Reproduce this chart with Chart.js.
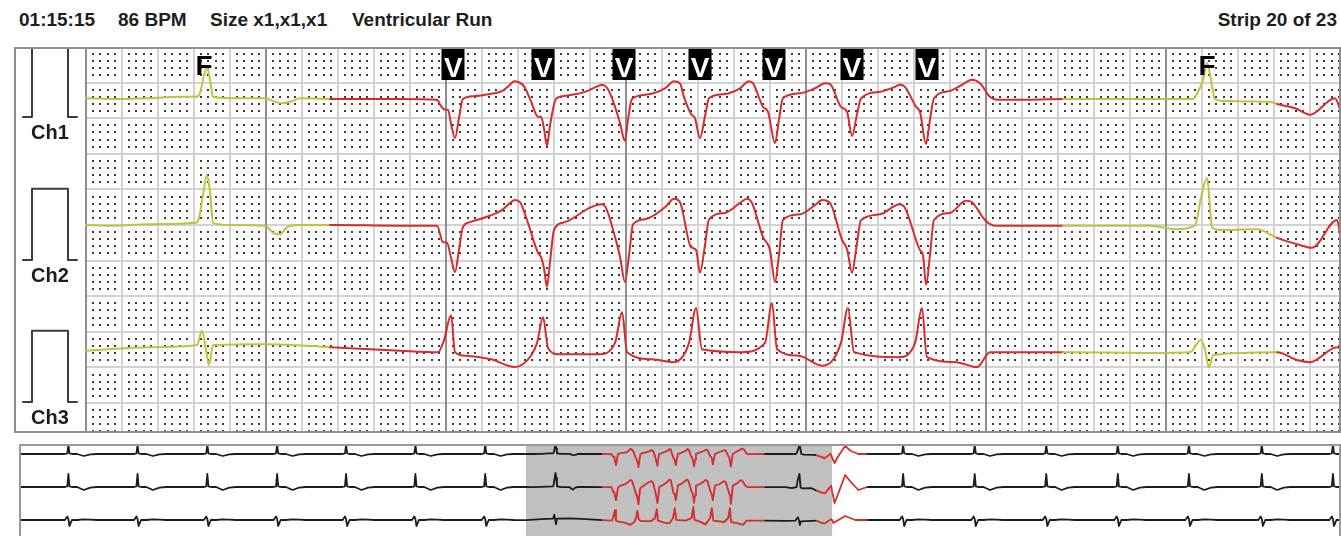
<!DOCTYPE html>
<html>
<head>
<meta charset="utf-8">
<script src="https://cdn.jsdelivr.net/npm/chart.js@4.4.1/dist/chart.umd.min.js"></script>
<style>
body { margin: 0; background: #fff; width: 1341px; height: 536px; overflow: hidden; position: relative; font-family: "Liberation Sans", Arial, sans-serif; }
.hdr { position: absolute; top: 10px; font-weight: bold; font-size: 19px; line-height: 19px; color: #1e1e1e; white-space: nowrap; }
#main { position: absolute; left: 14px; top: 47px; }
#overview { position: absolute; left: 19px; top: 444px; }
</style>
</head>
<body>
<div class="hdr" style="left:19px">01:15:15</div>
<div class="hdr" style="left:118px">86 BPM</div>
<div class="hdr" style="left:210px">Size x1,x1,x1</div>
<div class="hdr" style="left:352px">Ventricular Run</div>
<div class="hdr" style="right:4px">Strip 20 of 23</div>
<canvas id="main" width="1327" height="386"></canvas>
<canvas id="overview" width="1322" height="92"></canvas>
<script>
// strip data: [seconds from strip start, mV]
const channelNames = ['Ch1', 'Ch2', 'Ch3'];

const ch1Trace = [
    [0.000, 0.01], [0.189, 0.00], [0.356, 0.01], [0.522, 0.03], [0.611, 0.03], [0.633, 0.08], [0.656, 0.34], [0.672, 0.44],
    [0.689, 0.27], [0.706, 0.03], [0.800, 0.01], [0.994, 0.01], [1.050, -0.04], [1.094, -0.06], [1.144, -0.03], [1.189, 0.01],
    [1.356, 0.00], [1.744, 0.00], [1.950, -0.01], [1.972, -0.10], [1.994, -0.15], [2.011, -0.15], [2.028, -0.35], [2.050, -0.55],
    [2.072, -0.27], [2.094, 0.00], [2.156, 0.04], [2.244, 0.07], [2.311, 0.11], [2.356, 0.20], [2.378, 0.25], [2.400, 0.24],
    [2.433, 0.18], [2.472, -0.03], [2.511, -0.25], [2.528, -0.25], [2.544, -0.41], [2.561, -0.66], [2.578, -0.37], [2.611, 0.00],
    [2.650, 0.04], [2.772, 0.10], [2.844, 0.18], [2.867, 0.20], [2.906, 0.11], [2.944, -0.15], [2.967, -0.34], [2.994, -0.59],
    [3.011, -0.29], [3.033, 0.00], [3.106, 0.06], [3.217, 0.15], [3.267, 0.25], [3.300, 0.22], [3.322, 0.03], [3.361, -0.21],
    [3.383, -0.27], [3.411, -0.55], [3.439, -0.24], [3.461, 0.01], [3.550, 0.07], [3.633, 0.15], [3.683, 0.25], [3.706, 0.22],
    [3.761, -0.11], [3.789, -0.18], [3.828, -0.62], [3.850, -0.29], [3.872, 0.01], [3.967, 0.08], [4.050, 0.15], [4.106, 0.22],
    [4.133, 0.21], [4.194, -0.11], [4.228, -0.18], [4.256, -0.52], [4.283, -0.22], [4.306, 0.01], [4.411, 0.10], [4.494, 0.17],
    [4.522, 0.20], [4.550, 0.17], [4.611, -0.11], [4.633, -0.18], [4.667, -0.63], [4.689, -0.29], [4.711, 0.01], [4.794, 0.11],
    [4.867, 0.20], [4.922, 0.27], [4.967, 0.22], [5.022, 0.03], [5.061, -0.01], [5.244, -0.01], [5.428, 0.00], [5.911, 0.00],
    [6.150, 0.00], [6.178, 0.10], [6.206, 0.27], [6.228, 0.51], [6.250, 0.27], [6.272, 0.00], [6.328, -0.03], [6.578, -0.04],
    [6.617, -0.07], [6.717, -0.13], [6.800, -0.22], [6.939, 0.01], [6.972, -0.18], [7.03, -0.45], [7.10, -0.15], [7.27, 0.40],
    [7.40, 0.15], [7.57, 0.00], [7.77, 0.00], [7.80, 0.00]
];

const ch2Trace = [
    [0.000, 0.00], [0.133, -0.01], [0.356, 0.01], [0.611, 0.03], [0.628, 0.10], [0.650, 0.42], [0.672, 0.70], [0.689, 0.46],
    [0.706, 0.03], [0.800, 0.00], [0.994, -0.01], [1.039, -0.11], [1.078, -0.13], [1.117, -0.03], [1.189, 0.00], [1.356, 0.00],
    [1.744, -0.01], [1.950, -0.01], [1.983, -0.24], [2.006, -0.25], [2.028, -0.46], [2.050, -0.66], [2.072, -0.35], [2.094, -0.03],
    [2.133, 0.04], [2.244, 0.13], [2.311, 0.21], [2.356, 0.31], [2.383, 0.35], [2.411, 0.32], [2.450, 0.07], [2.511, -0.39],
    [2.528, -0.45], [2.544, -0.60], [2.561, -0.87], [2.578, -0.52], [2.600, -0.07], [2.661, 0.04], [2.806, 0.25], [2.867, 0.29],
    [2.894, 0.21], [2.939, -0.17], [2.967, -0.45], [2.994, -0.80], [3.017, -0.42], [3.039, 0.01], [3.106, 0.08], [3.217, 0.25],
    [3.267, 0.37], [3.300, 0.32], [3.361, -0.31], [3.389, -0.35], [3.411, -0.67], [3.439, -0.28], [3.461, 0.08], [3.550, 0.17],
    [3.633, 0.31], [3.672, 0.37], [3.700, 0.31], [3.761, -0.17], [3.800, -0.35], [3.828, -0.80], [3.850, -0.42], [3.872, 0.07],
    [3.967, 0.15], [4.050, 0.28], [4.089, 0.35], [4.133, 0.31], [4.200, -0.21], [4.228, -0.34], [4.256, -0.67], [4.278, -0.35],
    [4.306, 0.07], [4.411, 0.15], [4.494, 0.27], [4.517, 0.29], [4.550, 0.24], [4.633, -0.35], [4.650, -0.42], [4.667, -0.84],
    [4.689, -0.42], [4.711, 0.07], [4.800, 0.17], [4.889, 0.34], [4.922, 0.32], [4.994, 0.07], [5.050, -0.01], [5.428, -0.01],
    [5.911, -0.01], [6.056, -0.06], [6.161, -0.01], [6.194, 0.38], [6.228, 0.66], [6.256, -0.03], [6.300, -0.07], [6.506, -0.06],
    [6.617, -0.18], [6.744, -0.28], [6.811, -0.32], [6.950, 0.07], [6.972, -0.21], [7.03, -0.80], [7.10, -0.40], [7.27, 0.60],
    [7.40, 0.25], [7.57, -0.15], [7.77, 0.00], [7.80, 0.00]
];

const ch3Trace = [
    [0.000, -0.01], [0.356, 0.04], [0.617, 0.07], [0.644, 0.27], [0.667, 0.00], [0.683, -0.21], [0.706, 0.07], [1.006, 0.08],
    [1.356, 0.04], [1.744, -0.01], [1.956, -0.03], [1.989, 0.14], [2.028, 0.49], [2.050, -0.03], [2.111, -0.08], [2.250, -0.13],
    [2.383, -0.24], [2.472, -0.08], [2.506, 0.10], [2.539, 0.46], [2.567, 0.03], [2.628, -0.06], [2.850, -0.06], [2.939, 0.10],
    [2.978, 0.53], [3.006, -0.03], [3.144, -0.13], [3.267, -0.17], [3.350, 0.10], [3.389, 0.59], [3.422, 0.01], [3.639, -0.03],
    [3.772, 0.10], [3.811, 0.66], [3.839, 0.01], [3.961, -0.08], [4.089, -0.22], [4.194, 0.10], [4.233, 0.59], [4.267, -0.03],
    [4.517, -0.10], [4.606, 0.10], [4.644, 0.59], [4.672, -0.10], [4.833, -0.17], [4.950, -0.24], [5.022, -0.03], [5.428, -0.03],
    [5.911, -0.04], [6.133, -0.03], [6.194, 0.14], [6.217, 0.00], [6.239, -0.25], [6.261, -0.07], [6.617, -0.03], [6.728, -0.14],
    [6.800, -0.17], [6.950, 0.04], [6.972, 0.00], [7.00, -0.15], [7.27, 0.20], [7.50, 0.00], [7.77, 0.00], [7.80, 0.00]
];

const channelTraces = [ch1Trace, ch2Trace, ch3Trace];

// beat annotations
const beatLabels = ['F', 'V', 'V', 'V', 'V', 'V', 'V', 'V', 'F'];
const beatLabelTimes = [0.656, 2.041, 2.541, 2.989, 3.411, 3.822, 4.256, 4.672, 6.228];

// ventricular run (red) spans, seconds from strip start
const redRanges = [[1.356, 5.428], [6.617, 7.77]];

// 1 mV calibration pulse
const calTimes = [-0.35, -0.30, -0.30, -0.10, -0.10, -0.05];
const calMv = [0, 0, 1, 1, 0, 0];

// overview (30 s) : strip position and the normal beats around it
const stripStartInOverview = 11.549;
const overviewBeatTimes = [1.125, 2.70, 4.29, 5.88, 7.45, 9.03, 10.62, 20.14, 21.77, 23.40, 25.03, 26.65, 28.31, 29.93];
const normalBeatOffsets = [-0.08, -0.025, 0, 0.025, 0.08, 0.2, 0.35, 0.5, 0.65];
const normalBeatCh1 = [0, 0.03, 0.45, 0.03, 0, 0, -0.10, -0.02, 0];
const normalBeatCh2 = [0, 0.03, 0.65, 0.03, 0, 0, -0.15, -0.03, 0];
const normalBeatCh3 = [0, 0.18, 0.05, -0.30, 0, 0, 0.03, 0.02, 0];
const normalBeats = [normalBeatCh1, normalBeatCh2, normalBeatCh3];

const RED = '#d92b2b';
const YELLOW = '#c4c13b';
const INK = '#1c1c1c';
const MM_PER_MV = 10;
const SEC_PER_MM = 0.04;
const traceBaseMm = [-7.30, -25.0, -42.56];
const calBaseMm = [-9.83, -29.9, -49.86];
const overviewRowBase = [-0.5, -2.15, -3.8];

function inRed(t) {
    return redRanges.some(r => t >= r[0] && t < r[1]);
}

const stripGrid = {
    id: 'stripGrid',
    beforeDatasetsDraw(chart) {
        const { ctx, chartArea: area } = chart;
        const sx = chart.scales.x, sy = chart.scales.y;
        const cols = Math.floor(sx.max / SEC_PER_MM + 1e-6);
        const rows = Math.floor(-sy.min);
        const left = Math.round(sx.getPixelForValue(0));
        ctx.save();
        ctx.fillStyle = '#3a3a3a';
        for (let k = 1; k <= cols; k++) {
            if (k % 5 === 0) continue;
            const px = Math.round(sx.getPixelForValue(k * SEC_PER_MM));
            for (let j = 1; j <= rows; j++) {
                if (j % 5 === 0) continue;
                const py = Math.round(sy.getPixelForValue(-j));
                ctx.fillRect(px - 1, py - 1, 2, 2);
            }
        }
        ctx.lineWidth = 2;
        ctx.strokeStyle = '#d2d2d2';
        ctx.beginPath();
        for (let k = 5; k <= cols; k += 5) {
            if (k % 25 === 0) continue;
            const px = Math.round(sx.getPixelForValue(k * SEC_PER_MM));
            ctx.moveTo(px, area.top);
            ctx.lineTo(px, area.bottom);
        }
        for (let j = 5; j <= rows; j += 5) {
            const py = Math.round(sy.getPixelForValue(-j));
            ctx.moveTo(left, py);
            ctx.lineTo(area.right, py);
        }
        ctx.stroke();
        ctx.strokeStyle = '#8e8e8e';
        ctx.beginPath();
        for (let k = 0; k <= cols; k += 25) {
            const px = Math.round(sx.getPixelForValue(k * SEC_PER_MM));
            ctx.moveTo(px, area.top);
            ctx.lineTo(px, area.bottom);
        }
        ctx.stroke();
        ctx.restore();
    },
    afterDatasetsDraw(chart) {
        const { ctx, chartArea: area } = chart;
        const sx = chart.scales.x, sy = chart.scales.y;
        ctx.save();
        ctx.textAlign = 'center';
        ctx.textBaseline = 'alphabetic';
        ctx.fillStyle = INK;
        ctx.font = 'bold 20px "Liberation Sans", Arial, sans-serif';
        channelNames.forEach((name, i) => {
            ctx.fillText(name, sx.getPixelForValue(-0.2), sy.getPixelForValue(calBaseMm[i] - 3.1));
        });
        ctx.font = 'bold 28px "Liberation Sans", Arial, sans-serif';
        beatLabels.forEach((label, i) => {
            const px = sx.getPixelForValue(beatLabelTimes[i]);
            if (label === 'V') {
                ctx.fillStyle = '#000';
                ctx.fillRect(Math.round(px) - 11.5, area.top, 23, 33);
                ctx.fillStyle = '#fff';
                ctx.fillText(label, px, area.top + 29.5);
            } else {
                ctx.fillStyle = '#000';
                ctx.fillText(label, px, area.top + 28);
            }
        });
        ctx.restore();
    },
    afterDraw(chart) {
        const { ctx } = chart;
        ctx.save();
        ctx.lineWidth = 2;
        ctx.strokeStyle = '#8e8e8e';
        ctx.strokeRect(1, 1, chart.width - 2, chart.height - 2);
        ctx.restore();
    }
};

const mainCanvas = document.getElementById('main');
const xMin = -0.4;
const xMax = xMin + mainCanvas.width / 180;
const yMin = -mainCanvas.height / 7.12;

const mainDatasets = channelTraces.map((trace, i) => ({
    data: trace.map(p => ({ x: p[0], y: traceBaseMm[i] + p[1] * MM_PER_MV })),
    borderColor: YELLOW,
    borderWidth: 2,
    cubicInterpolationMode: 'monotone',
    segment: { borderColor: c => inRed(c.p0.parsed.x) ? RED : YELLOW }
}));
traceBaseMm.forEach((b, i) => {
    mainDatasets.push({
        data: calTimes.map((t, k) => ({ x: t, y: calBaseMm[i] + calMv[k] * MM_PER_MV })),
        borderColor: '#3c3c3c',
        borderWidth: 2,
        tension: 0
    });
});

new Chart(mainCanvas, {
    type: 'line',
    data: { datasets: mainDatasets },
    options: {
        responsive: false,
        animation: false,
        events: [],
        layout: { padding: 0 },
        elements: { point: { radius: 0 }, line: { tension: 0, borderJoinStyle: 'round', borderCapStyle: 'round' } },
        plugins: { legend: { display: false }, tooltip: { enabled: false } },
        scales: {
            x: { type: 'linear', min: xMin, max: xMax, display: false },
            y: { type: 'linear', min: yMin, max: 0, display: false }
        }
    },
    plugins: [stripGrid]
});

// overview strip
const overviewCanvas = document.getElementById('overview');
const overviewMax = overviewCanvas.width / 43.9;
const overviewMinMv = -overviewCanvas.height / 20;

function overviewPoints(i) {
    const pts = [[0, 0]];
    const addBeat = t => normalBeatOffsets.forEach((o, k) => pts.push([t + o, normalBeats[i][k]]));
    overviewBeatTimes.filter(t => t < stripStartInOverview).forEach(addBeat);
    channelTraces[i].forEach(p => pts.push([stripStartInOverview + p[0], p[1]]));
    overviewBeatTimes.filter(t => t > stripStartInOverview).forEach(addBeat);
    return pts.map(p => ({ x: p[0], y: overviewRowBase[i] + p[1] }));
}

const overviewFrame = {
    id: 'overviewFrame',
    beforeDatasetsDraw(chart) {
        const { ctx, chartArea: area } = chart;
        const sx = chart.scales.x;
        const a = sx.getPixelForValue(stripStartInOverview);
        const b = sx.getPixelForValue(stripStartInOverview + xMax);
        ctx.save();
        ctx.fillStyle = '#c0c0c0';
        ctx.fillRect(a, area.top, b - a, area.bottom - area.top);
        ctx.restore();
    },
    afterDraw(chart) {
        const { ctx } = chart;
        ctx.save();
        ctx.lineWidth = 2;
        ctx.strokeStyle = '#999';
        ctx.beginPath();
        ctx.moveTo(1, chart.height);
        ctx.lineTo(1, 1);
        ctx.lineTo(chart.width - 1, 1);
        ctx.lineTo(chart.width - 1, chart.height);
        ctx.stroke();
        ctx.restore();
    }
};

new Chart(overviewCanvas, {
    type: 'line',
    data: {
        datasets: channelNames.map((name, i) => ({
            data: overviewPoints(i),
            borderColor: INK,
            borderWidth: 1.8,
            segment: { borderColor: c => inRed(c.p0.parsed.x - stripStartInOverview) ? RED : INK }
        }))
    },
    options: {
        responsive: false,
        animation: false,
        events: [],
        layout: { padding: 0 },
        elements: { point: { radius: 0 }, line: { tension: 0, borderJoinStyle: 'round' } },
        plugins: { legend: { display: false }, tooltip: { enabled: false } },
        scales: {
            x: { type: 'linear', min: 0, max: overviewMax, display: false },
            y: { type: 'linear', min: overviewMinMv, max: 0, display: false }
        }
    },
    plugins: [overviewFrame]
});
</script>
</body>
</html>
